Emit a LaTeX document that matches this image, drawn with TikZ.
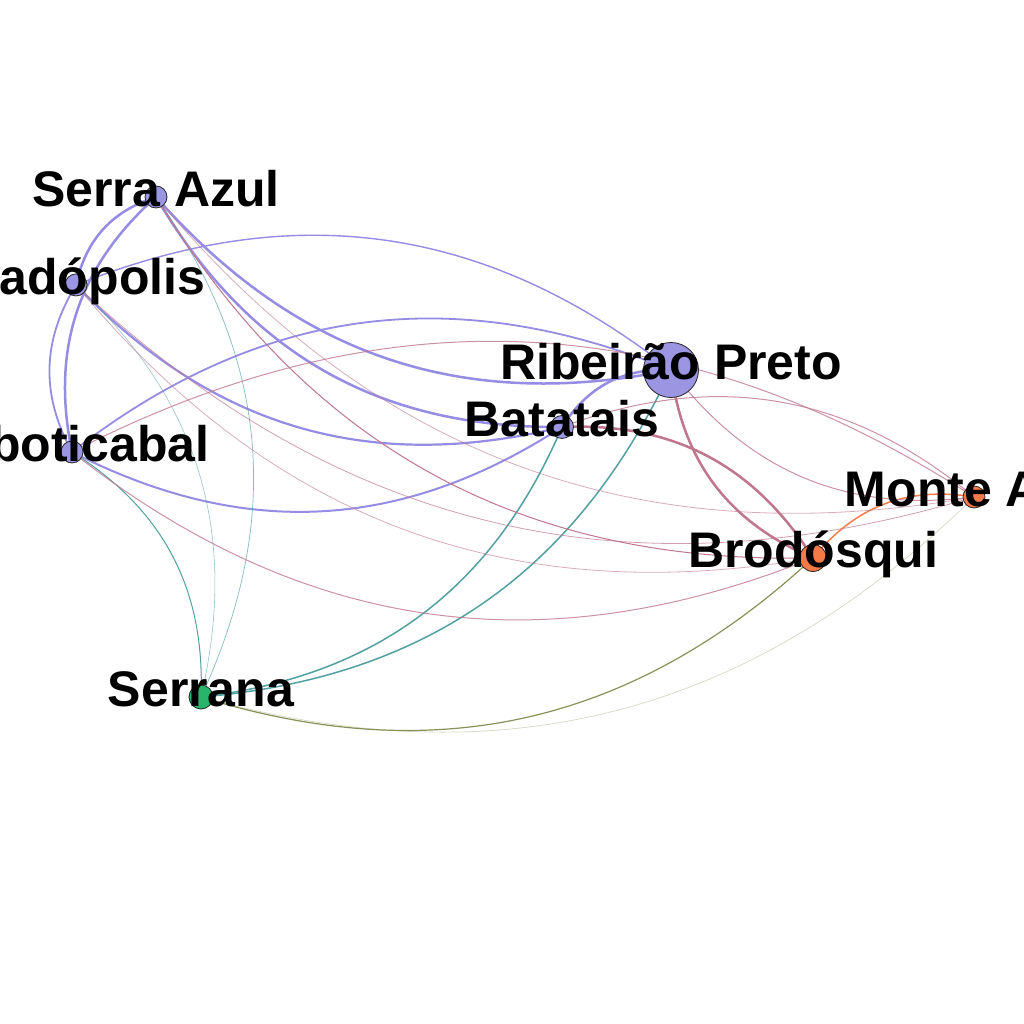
\documentclass[tikz,border=0pt]{standalone}
\usepackage{fontspec}
\setmainfont{Liberation Sans}
\usetikzlibrary{backgrounds}
\definecolor{cpurple}{RGB}{155,149,226}
\definecolor{corange}{RGB}{244,122,72}
\definecolor{cgreen}{RGB}{40,180,107}
\definecolor{epurple}{RGB}{150,140,228}
\definecolor{ered}{RGB}{192,118,140}
\definecolor{eteal}{RGB}{82,160,162}
\definecolor{eolive}{RGB}{138,145,88}
\definecolor{eorange}{RGB}{244,125,70}

\begin{document}
\begin{tikzpicture}[x=1pt,y=1pt,
	city/.style={draw=black!85,line width=0.8pt,shape=circle,inner sep=0pt},
	lbl/.style={anchor=base,yshift=-10pt,font=\bfseries\fontsize{50}{60}\selectfont},
	pp/.style={draw=epurple},
	pr/.style={draw=ered},
	pt/.style={draw=eteal},
	go/.style={draw=eolive},
	oo/.style={draw=eorange}]
	\useasboundingbox (0,0) rectangle (1024,1024);
	\clip (0,0) rectangle (1024,1024);
	\draw (156,827) node (SA) [city,fill=cpurple,minimum size=22pt] {};
	\draw (76,739) node (Prad) [city,fill=cpurple,minimum size=22pt] {};
	\draw (72,572) node (Jab) [city,fill=cpurple,minimum size=22pt] {};
	\draw (671,654) node (Rib) [city,fill=cpurple,minimum size=55pt] {};
	\draw (562,597) node (Bat) [city,fill=cpurple,minimum size=23pt] {};
	\draw (974,527) node (MA) [city,fill=corange,minimum size=22pt] {};
	\draw (813,466) node (Brod) [city,fill=corange,minimum size=27pt] {};
	\draw (201,327) node (Ser) [city,fill=cgreen,minimum size=24pt] {};
	\node [lbl] (SA-l) at (SA) {Serra Azul};
	\node [lbl] (Prad-l) at (Prad) {Pradópolis};
	\node [lbl] (Jab-l) at (Jab) {Jaboticabal};
	\node [lbl] (Rib-l) at (Rib) {Ribeirão Preto};
	\node [lbl] (Bat-l) at (Bat) {Batatais};
	\node [lbl] (MA-l) at (MA) {Monte Alto};
	\node [lbl] (Brod-l) at (Brod) {Brodósqui};
	\node [lbl] (Ser-l) at (Ser) {Serrana};
	\begin{scope}[on background layer]
	\fill[white] (0,0) rectangle (1024,1024);
	% purple to purple
	\draw[pp,line width=2.5pt] (Prad.center) edge [bend left=30] (SA.center);
	\draw[pp,line width=2.5pt] (Jab.center) edge [bend left=30] (SA.center);
	\draw[pp,line width=1.8pt] (Jab.center) edge [bend left=30] (Prad.center);
	\draw[pp,line width=2.5pt] (Rib.center) edge [bend left=30] (SA.center);
	\draw[pp,line width=2.5pt] (Bat.center) edge [bend left=30] (SA.center);
	\draw[pp,line width=1.4pt] (Prad.center) edge [bend left=30] (Rib.center);
	\draw[pp,line width=2.2pt] (Bat.center) edge [bend left=30] (Prad.center);
	\draw[pp,line width=1.8pt] (Jab.center) edge [bend left=30] (Rib.center);
	\draw[pp,line width=2pt] (Bat.center) edge [bend left=30] (Jab.center);
	\draw[pp,line width=2.5pt] (Bat.center) edge [bend left=30] (Rib.center);
	% purple to green
	\draw[pt,line width=0.7pt,opacity=0.7] (SA.center) edge [bend left=30] (Ser.center);
	\draw[pt,line width=0.6pt,opacity=0.6] (Prad.center) edge [bend left=30] (Ser.center);
	\draw[pt,line width=1pt] (Jab.center) edge [bend left=30] (Ser.center);
	\draw[pt,line width=1.5pt] (Rib.center) edge [bend left=30] (Ser.center);
	\draw[pt,line width=1.5pt] (Bat.center) edge [bend left=30] (Ser.center);
	% green to orange
	\draw[go,line width=1.2pt] (Brod.center) edge [bend left=30] (Ser.center);
	\draw[go,line width=0.7pt,opacity=0.35] (MA.center) edge [bend left=30] (Ser.center);
	% orange to orange
	\draw[oo,line width=1.5pt] (Brod.center) edge [bend left=30] (MA.center);
	% purple to orange
	\draw[pr,line width=2.5pt] (Brod.center) edge [bend left=30] (Rib.center);
	\draw[pr,line width=2.5pt] (Bat.center) edge [bend left=30] (Brod.center);
	\draw[pr,line width=1pt,opacity=0.8] (MA.center) edge [bend left=30] (Rib.center);
	\draw[pr,line width=1pt,opacity=0.8] (Bat.center) edge [bend left=30] (MA.center);
	\draw[pr,line width=1pt] (Brod.center) edge [bend left=30] (SA.center);
	\draw[pr,line width=0.8pt,opacity=0.6] (MA.center) edge [bend left=30] (SA.center);
	\draw[pr,line width=0.8pt,opacity=0.6] (Brod.center) edge [bend left=30] (Prad.center);
	\draw[pr,line width=0.8pt,opacity=0.7] (MA.center) edge [bend left=30] (Prad.center);
	\draw[pr,line width=1pt,opacity=0.8] (Brod.center) edge [bend left=30] (Jab.center);
	\draw[pr,line width=1pt,opacity=0.8] (Jab.center) edge [bend left=30] (MA.center);
	\end{scope}
\end{tikzpicture}
\end{document}
